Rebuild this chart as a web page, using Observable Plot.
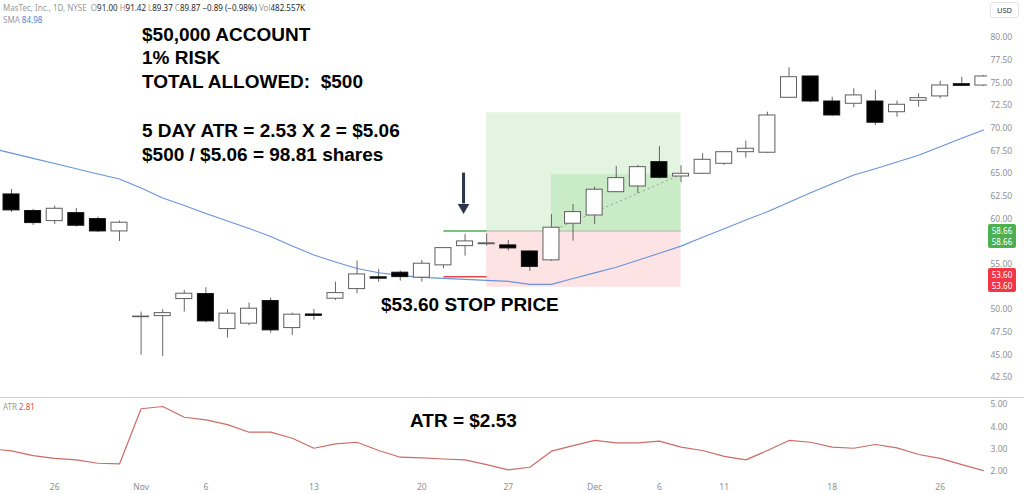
<!DOCTYPE html>
<html><head><meta charset="utf-8">
<script src="https://cdn.jsdelivr.net/npm/d3@7"></script>
<script src="https://cdn.jsdelivr.net/npm/@observablehq/plot@0.6"></script>
<style>
html,body{margin:0;padding:0;background:#fff;}
#wrap{position:relative;width:1024px;height:494px;overflow:hidden;font-family:"Liberation Sans",Arial,sans-serif;}
#wrap svg{display:block;}
.ann{position:absolute;font-weight:bold;font-size:19px;color:#000;white-space:pre;line-height:19px;}
.hdr{position:absolute;font-size:8px;color:#9a9a9a;white-space:pre;line-height:10px;font-family:"Noto Sans","Liberation Sans",sans-serif;}
.hdr b{font-weight:normal;color:#2a2a2a;}
.plab{position:absolute;left:988px;width:28px;color:#fff;font-size:8px;text-align:center;line-height:11px;border-radius:2px;font-family:"Noto Sans","Liberation Sans",sans-serif;}
#sep{position:absolute;left:0;top:397px;width:1024px;height:1px;background:#d0d0d0;}
#usd{position:absolute;left:990px;top:2px;width:27px;height:14px;border:1px solid #e3e3e3;border-radius:3px;font-size:7.5px;line-height:14px;text-align:center;color:#333;font-family:"Noto Sans","Liberation Sans",sans-serif;}
</style></head>
<body><div id="wrap"></div>
<script>
// ---- data ----
const dates = ["2023-10-23","2023-10-24","2023-10-25","2023-10-26","2023-10-27","2023-10-30","2023-10-31","2023-11-01","2023-11-02","2023-11-03","2023-11-06","2023-11-07","2023-11-08","2023-11-09","2023-11-10","2023-11-13","2023-11-14","2023-11-15","2023-11-16","2023-11-17","2023-11-20","2023-11-21","2023-11-22","2023-11-24","2023-11-27","2023-11-28","2023-11-29","2023-11-30","2023-12-01","2023-12-04","2023-12-05","2023-12-06","2023-12-07","2023-12-08","2023-12-11","2023-12-12","2023-12-13","2023-12-14","2023-12-15","2023-12-18","2023-12-19","2023-12-20","2023-12-21","2023-12-22","2023-12-26","2023-12-27","2023-12-28"];
const open  = [null,62.69,60.86,59.75,60.63,59.97,58.61,49.15,49.27,51.15,51.70,47.84,48.44,50.93,47.95,49.45,51.19,52.25,53.55,54.06,53.51,54.87,56.99,57.20,57.07,56.40,55.42,59.46,60.37,62.94,63.57,66.25,64.67,64.97,66.07,67.35,67.29,73.35,75.70,72.94,72.69,72.94,71.76,73.02,73.50,74.85,74.70];
const high  = [null,63.24,61.04,61.40,61.15,60.19,59.75,49.71,49.98,52.10,52.40,49.98,50.71,51.26,49.60,50.00,53.02,55.35,54.40,54.23,55.41,56.85,58.28,58.35,57.62,56.45,60.49,61.59,63.50,65.78,65.89,67.98,65.85,67.18,67.40,68.57,71.76,76.66,75.75,73.42,74.34,74.16,72.98,73.79,75.18,75.62,75.80];
const low   = [null,60.70,59.27,59.38,59.09,58.50,57.51,44.97,44.83,49.71,48.54,46.85,48.20,47.40,47.14,48.80,50.99,51.74,53.00,53.13,53.02,54.50,55.89,57.00,56.45,54.20,55.30,57.54,59.38,62.90,62.77,64.42,64.00,64.90,65.90,66.69,67.20,73.30,72.80,71.29,72.25,70.30,71.21,72.32,73.24,74.60,74.60];
const close = [null,60.93,59.53,61.11,59.24,58.61,59.57,49.22,49.60,51.74,48.69,49.54,50.09,47.70,49.43,49.30,51.81,53.87,53.40,53.57,55.05,56.77,57.51,57.30,56.74,54.70,59.02,60.74,63.21,64.49,65.70,64.53,64.97,66.51,67.35,67.73,71.40,75.62,72.94,71.40,73.61,70.60,72.58,73.31,74.71,74.67,75.70];
const sma   = [67.81,67.25,66.67,66.11,65.53,64.95,64.40,63.41,62.30,61.48,60.60,59.77,58.94,58.06,57.01,56.02,55.23,54.53,54.06,53.76,53.54,53.43,53.32,53.21,53.10,52.77,52.77,53.42,54.04,54.67,55.44,56.20,56.99,57.97,58.90,59.87,60.79,61.83,62.88,63.88,64.83,65.53,66.27,67.01,67.96,68.90,69.80];
const atr   = [3.02,2.92,2.71,2.59,2.52,2.37,2.34,4.81,4.91,4.43,4.31,4.10,3.76,3.76,3.49,3.04,3.24,3.31,2.94,2.64,2.61,2.56,2.52,2.31,2.07,2.19,2.91,3.16,3.39,3.28,3.28,3.36,3.09,2.94,2.68,2.52,2.94,3.39,3.31,3.09,3.04,3.21,3.06,2.76,2.59,2.31,2.04];
const priceTicks = [42.5,45,47.5,50,55,60,62.5,65,67.5,70,72.5,75,77.5,80];
const atrTicks = [2,3,4,5];
const xTickDates  = ["2023-10-26","2023-11-01","2023-11-06","2023-11-13","2023-11-20","2023-11-27","2023-12-01","2023-12-06","2023-12-11","2023-12-18","2023-12-26"];
const xTickLabels = ["26","Nov","6","13","20","27","Dec","6","11","18","26"];
// trade setup (long position tool)
const entryPrice = 58.66, stopPrice = 53.60, targetPrice = 71.7, riskBottomPrice = 52.45, progressTopPrice = 64.9;
const setupStart = "2023-11-21", boxStart = "2023-11-24", progressStart = "2023-11-29", boxEnd = "2023-12-07";
const arrowDate = "2023-11-22", arrowTop = 65.1, arrowShaftEnd = 61.7, arrowHead = 61.26;

// ---- build ----
const ix = d => dates.indexOf(d);
const candles = dates.map((d,i)=>({i,o:open[i],h:high[i],l:low[i],c:close[i]})).filter(d=>d.o!=null);
const up = candles.filter(d=>d.c>=d.o), down = candles.filter(d=>d.c<d.o);
const smaData = dates.map((d,i)=>({i,v:sma[i]}));
const atrData = dates.map((d,i)=>({i,v:atr[i]}));
const xDomain = [0.49, 46.19];
const half = 0.37;
const font = '"Noto Sans","Liberation Sans",sans-serif';

const wrap = document.getElementById("wrap");

const main = Plot.plot({
  width: 1024, height: 397, marginLeft: 0, marginRight: 37, marginTop: 37, marginBottom: 20,
  x: {domain: xDomain, axis: null, label: null},
  y: {domain: [42.5, 80], axis: null, label: null},
  style: {background: "transparent", color: "#8f8f8f", fontFamily: font},
  marks: [
    Plot.rect([{a:ix(boxStart),b:ix(boxEnd),y1:entryPrice,y2:targetPrice}], {x1:"a",x2:"b",y1:"y1",y2:"y2",fill:"#e3f5e1"}),
    Plot.rect([{a:ix(boxStart),b:ix(boxEnd),y1:riskBottomPrice,y2:entryPrice}], {x1:"a",x2:"b",y1:"y1",y2:"y2",fill:"#fde3e3"}),
    Plot.rect([{a:ix(progressStart),b:ix(boxEnd),y1:entryPrice,y2:progressTopPrice}], {x1:"a",x2:"b",y1:"y1",y2:"y2",fill:"#c9ebc6"}),
    Plot.link([{a:ix(boxStart),b:ix(boxEnd),y:entryPrice}], {x1:"a",x2:"b",y1:"y",y2:"y",stroke:"#a3b8a2",strokeWidth:1}),
    Plot.link([{a:ix(setupStart),b:ix(boxStart),y:entryPrice}], {x1:"a",x2:"b",y1:"y",y2:"y",stroke:"#4caf50",strokeWidth:1.5}),
    Plot.link([{a:ix(setupStart),b:ix(boxStart),y:stopPrice}], {x1:"a",x2:"b",y1:"y",y2:"y",stroke:"#e04a4a",strokeWidth:1.5}),
    Plot.link([{a:ix(progressStart),b:ix(boxEnd),y1:entryPrice,y2:progressTopPrice}], {x1:"a",x2:"b",y1:"y1",y2:"y2",stroke:"#9a9a9a",strokeWidth:1,strokeDasharray:"2,3"}),
    Plot.line(smaData, {x:"i",y:"v",stroke:"#6a93dc",strokeWidth:1.1,clip:true}),
    Plot.ruleX(candles, {x:"i",y1:"l",y2:"h",stroke:"#666",strokeWidth:1,clip:true}),
    Plot.rect(up, {x1:d=>d.i-half,x2:d=>d.i+half,y1:"o",y2:"c",fill:"#fff",stroke:"#5e5e5e",strokeWidth:1,clip:true}),
    Plot.rect(down, {x1:d=>d.i-half,x2:d=>d.i+half,y1:"o",y2:"c",fill:"#000",stroke:"#111",strokeWidth:1,clip:true}),
    Plot.link([{x:ix(arrowDate)-0.07,y1:arrowTop,y2:arrowShaftEnd}], {x1:"x",x2:"x",y1:"y1",y2:"y2",stroke:"#2b3548",strokeWidth:3}),
    Plot.dot([{x:ix(arrowDate)-0.07,y:arrowHead}], {x:"x",y:"y",symbol:"triangle",r:4.3,rotate:180,fill:"#2b3548",stroke:"none"}),
    Plot.axisY({anchor:"right",ticks:priceTicks,tickSize:0,tickPadding:3,tickFormat:d=>d.toFixed(2),fontSize:8.5,fill:"#8f8f8f",label:null})
  ]
});
main.style.position = "absolute"; main.style.left = "0px"; main.style.top = "0px";
wrap.appendChild(main);

const atrPlot = Plot.plot({
  width: 1024, height: 96, marginLeft: 0, marginRight: 37, marginTop: 6, marginBottom: 23,
  x: {domain: xDomain, axis: null, label: null},
  y: {domain: [2, 5], axis: null, label: null},
  style: {background: "transparent", color: "#8f8f8f", fontFamily: font},
  marks: [
    Plot.line(atrData, {x:"i",y:"v",stroke:"#cc6c68",strokeWidth:1.2,clip:true}),
    Plot.axisY({anchor:"right",ticks:atrTicks,tickSize:0,tickPadding:3,tickFormat:d=>d.toFixed(2),fontSize:8.5,fill:"#8f8f8f",label:null}),
    Plot.axisX({ticks:xTickDates.map(ix),tickSize:0,tickPadding:12,tickFormat:i=>xTickLabels[xTickDates.indexOf(dates[i])],fontSize:8.5,fill:"#8f8f8f",label:null})
  ]
});
atrPlot.style.position = "absolute"; atrPlot.style.left = "0px"; atrPlot.style.top = "398px";
wrap.appendChild(atrPlot);

function add(cls, html, style){ const el=document.createElement("div"); el.className=cls; el.innerHTML=html; Object.assign(el.style, style); wrap.appendChild(el); return el; }

add("", "", {}).id = "sep";
add("", "USD", {}).id = "usd";

add("hdr", 'MasTec, Inc., 1D, NYSE  O<b>91.00</b> H<b>91.42</b> L<b>89.37</b> C<b>89.87</b> <b>\u22120.89 (\u22120.98%)</b> Vol<b>482.557K</b>', {left:"3px",top:"3px"});
add("hdr", 'SMA <span style="color:#4a7fd4">84.98</span>', {left:"3px",top:"15px"});
add("hdr", 'ATR <span style="color:#d05050">2.81</span>', {left:"3px",top:"402px"});

const ys = main.scale("y");
add("plab", entryPrice.toFixed(2)+"<br>"+entryPrice.toFixed(2), {top:(ys.apply(entryPrice)-6)+"px", height:"23px", background:"#4caf50", paddingTop:"1px"});
add("plab", stopPrice.toFixed(2)+"<br>"+stopPrice.toFixed(2), {top:(ys.apply(stopPrice)-8)+"px", height:"23px", background:"#f23645", paddingTop:"1px"});

add("ann", "$50,000 ACCOUNT", {left:"142px",top:"25px"});
add("ann", "1% RISK", {left:"142px",top:"48px"});
add("ann", "TOTAL ALLOWED:  $500", {left:"142px",top:"72px"});
add("ann", "5 DAY ATR = 2.53 X 2 = $5.06", {left:"142px",top:"121px"});
add("ann", "$500 / $5.06 = 98.81 shares", {left:"142px",top:"145px"});
add("ann", "$53.60 STOP PRICE", {left:"381px",top:"295px"});
add("ann", "ATR = $2.53", {left:"410px",top:"411px"});
</script></body></html>
